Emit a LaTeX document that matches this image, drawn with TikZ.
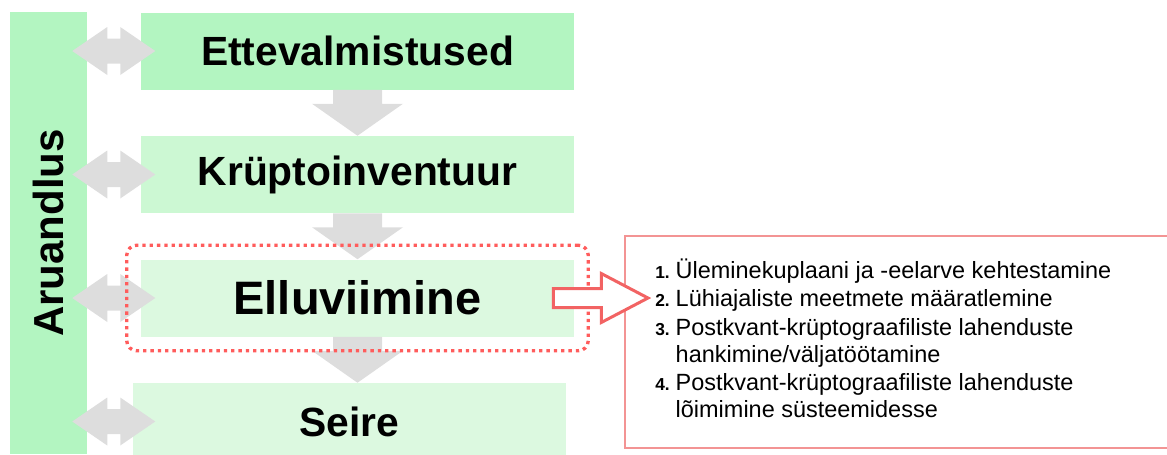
\documentclass[tikz,border=0pt]{standalone}
\usepackage{fontspec}
\setmainfont{Liberation Sans}
\usepackage{xcolor}
\usetikzlibrary{calc,fit}
\definecolor{greenA}{HTML}{B3F5C1}
\definecolor{greenB}{HTML}{CCF8D3}
\definecolor{greenC}{HTML}{DCF9E0}
\definecolor{arrowGray}{HTML}{DDDDDD}
\definecolor{dotRed}{HTML}{FF5C5C}
\definecolor{arrowRed}{HTML}{F26363}
\definecolor{listRed}{HTML}{F39494}
\newcommand\stepno[1]{{\bfseries\fontsize{13}{15}\selectfont #1}}

\begin{document}
\begin{tikzpicture}[x=0.75pt,y=-0.75pt,
  stage/.style={fill=#1,minimum width=324.75pt,minimum height=57.75pt,inner sep=0pt,
    font=\bfseries\fontsize{30.6}{35}\selectfont},
  focus/.style={draw=dotRed,line width=2.5pt,dash pattern=on 2.5pt off 3pt,rounded corners=7.5pt},
  hollow/.style={draw=arrowRed,fill=white,line width=2.25pt,line join=miter}]
\useasboundingbox (0,0) rectangle (1167,454);
\node[stage=greenA,minimum width=57.75pt,minimum height=331.5pt,font=\bfseries\fontsize{31.5}{36}\selectfont] (bar) at (48.5,233) {\rotatebox{90}{Aruandlus}};
\node[stage=greenA] (prep) at (357.5,51) {Ettevalmistused};
\node[stage=greenB] (inv) at (357.5,174.5) {Krüptoinventuur};
\node[stage=greenC,font=\bfseries\fontsize{35.2}{40}\selectfont] (impl) at (357.5,298) {Elluviimine};
\node[stage=greenC] (mon) at (349.5,421.5) {Seire};
\foreach \a/\b in {prep/inv,inv/impl,impl/mon}
  \fill[arrowGray,shift={(\a.south)}] (-24.5,0) -- (24.5,0) -- (24.5,14) -- (45.5,14)
    -- (\a.south|-\b.north) -- (-45.5,14) -- (-24.5,14) -- cycle;
\foreach \s in {prep,inv,impl,mon}
  \fill[arrowGray,shift={(bar.east|-\s.center)}] (-15,0) -- (20,-24) -- (20,-12.5) -- (33,-12.5)
    -- (33,-24) -- (68,0) -- (33,24) -- (33,12.5) -- (20,12.5) -- (20,24) -- cycle;
\node[focus,fit=(impl),inner sep=10.5pt] (focusbox) {};
\node[draw=listRed,line width=1.5pt,minimum width=416.25pt,minimum height=159pt] (tasks) at (902.5,342) {};
\draw[hollow] ($(impl.east)+(-21,-9.5)$) -- ($(impl.east)+(27,-9.5)$) -- ($(impl.east)+(27,-24.5)$)
  -- ($(tasks.west|-impl.east)+(24,0)$) -- ($(impl.east)+(27,24.5)$) -- ($(impl.east)+(27,9.5)$)
  -- ($(impl.east)+(-21,9.5)$) -- cycle;
\node[anchor=base west,inner sep=0pt,font=\fontsize{17.6}{20}\selectfont] (steps) at (655,278) {%
  \begin{tabular}[t]{@{}r@{\hspace{4.5pt}}l@{}}
  \stepno{1.} & Üleminekuplaani ja -eelarve kehtestamine\\[1.5pt]
  \stepno{2.} & Lühiajaliste meetmete määratlemine\\[1.5pt]
  \stepno{3.} & Postkvant-krüptograafiliste lahenduste\\
   & hankimine/väljatöötamine\\[1.5pt]
  \stepno{4.} & Postkvant-krüptograafiliste lahenduste\\
   & lõimimine süsteemidesse
  \end{tabular}};
\end{tikzpicture}
\end{document}
